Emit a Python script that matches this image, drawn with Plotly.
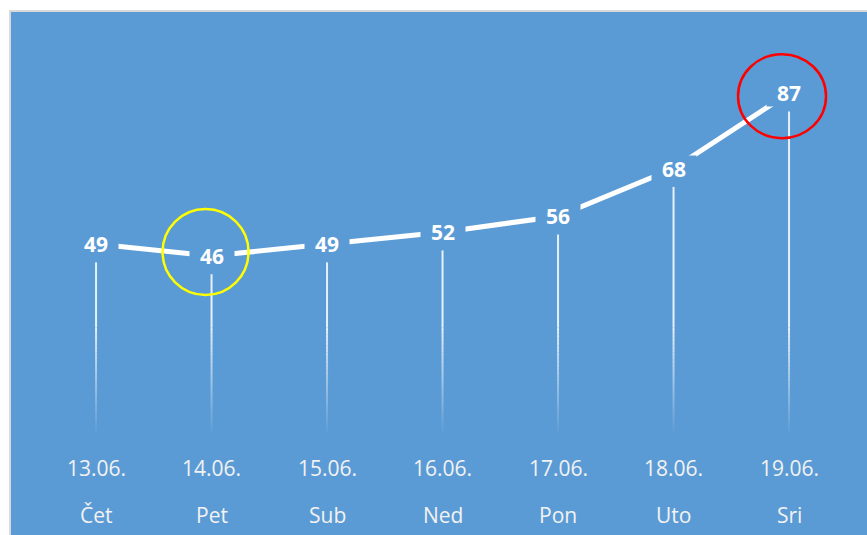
import plotly.graph_objects as go

dates = ["13.06.", "14.06.", "15.06.", "16.06.", "17.06.", "18.06.", "19.06."]
days = ["Čet", "Pet", "Sub", "Ned", "Pon", "Uto", "Sri"]
values = [49, 46, 49, 52, 56, 68, 87]

BLUE = "#5B9BD5"
FONT = "'Open Sans', Lato, sans-serif"
xs = list(range(len(values)))

fig = go.Figure()
fig.add_trace(go.Scatter(
    x=xs, y=values, mode="lines",
    line=dict(color="white", width=5),
    hoverinfo="skip", showlegend=False,
))

shapes = []
# border (top and left)
shapes.append(dict(type="path", xref="paper", yref="paper",
                   path="M 0,0 L 0,1 L 1,1",
                   line=dict(color="#D9D9D9", width=2)))

# drop lines with fading lower part
fade_top = 28.0
fade_bottom = 0.8
nseg = 30
for x, v in zip(xs, values):
    top = v - 4.6
    shapes.append(dict(type="line", xref="x", yref="y", x0=x, x1=x,
                       y0=fade_top, y1=top, layer="below",
                       line=dict(color="rgba(255,255,255,0.85)", width=2)))
    for k in range(nseg):
        a = fade_top - (fade_top - fade_bottom) * k / nseg
        b = fade_top - (fade_top - fade_bottom) * (k + 1) / nseg
        op = 0.85 * (1 - (k + 0.5) / nseg)
        shapes.append(dict(type="line", xref="x", yref="y", x0=x, x1=x,
                           y0=b, y1=a, layer="below",
                           line=dict(color=f"rgba(255,255,255,{op:.3f})", width=2)))

# highlight circles
i_min = values.index(min(values))
i_max = values.index(max(values))
shapes.append(dict(type="circle", xref="x", yref="y",
                   xsizemode="pixel", ysizemode="pixel",
                   xanchor=xs[i_min], yanchor=values[i_min],
                   x0=-49, x1=37, y0=-39, y1=47,
                   line=dict(color="#FFFF00", width=2.5)))
shapes.append(dict(type="circle", xref="x", yref="y",
                   xsizemode="pixel", ysizemode="pixel",
                   xanchor=xs[i_max], yanchor=values[i_max],
                   x0=-51, x1=37, y0=-45, y1=39,
                   line=dict(color="#FF0000", width=2.5)))

annotations = []
for x, v in zip(xs, values):
    annotations.append(dict(x=x, y=v, xref="x", yref="y", text=f"<b>{v}</b>",
                            showarrow=False, bgcolor=BLUE, width=42, height=24,
                            borderpad=1,
                            font=dict(family=FONT, size=21, color="white")))
for x, d, dn in zip(xs, dates, days):
    annotations.append(dict(x=x, y=0, xref="x", yref="paper", text=d,
                            showarrow=False, yanchor="middle", yshift=67,
                            font=dict(family=FONT, size=21, color="#F2F2F2")))
    annotations.append(dict(x=x, y=0, xref="x", yref="paper", text=dn,
                            showarrow=False, yanchor="middle", yshift=20,
                            font=dict(family=FONT, size=21, color="#F2F2F2")))

fig.update_layout(
    width=867, height=535,
    margin=dict(l=10, r=0, t=11, b=0),
    paper_bgcolor="white",
    plot_bgcolor=BLUE,
    xaxis=dict(range=[-0.745, 6.675], visible=False, fixedrange=True),
    yaxis=dict(range=[-24.28, 107.7], visible=False, fixedrange=True),
    shapes=shapes,
    annotations=annotations,
    showlegend=False,
)

fig.write_html("out.html",
               config={"displayModeBar": False},
               post_script="document.body.style.margin='0';document.body.style.overflow='hidden';")
